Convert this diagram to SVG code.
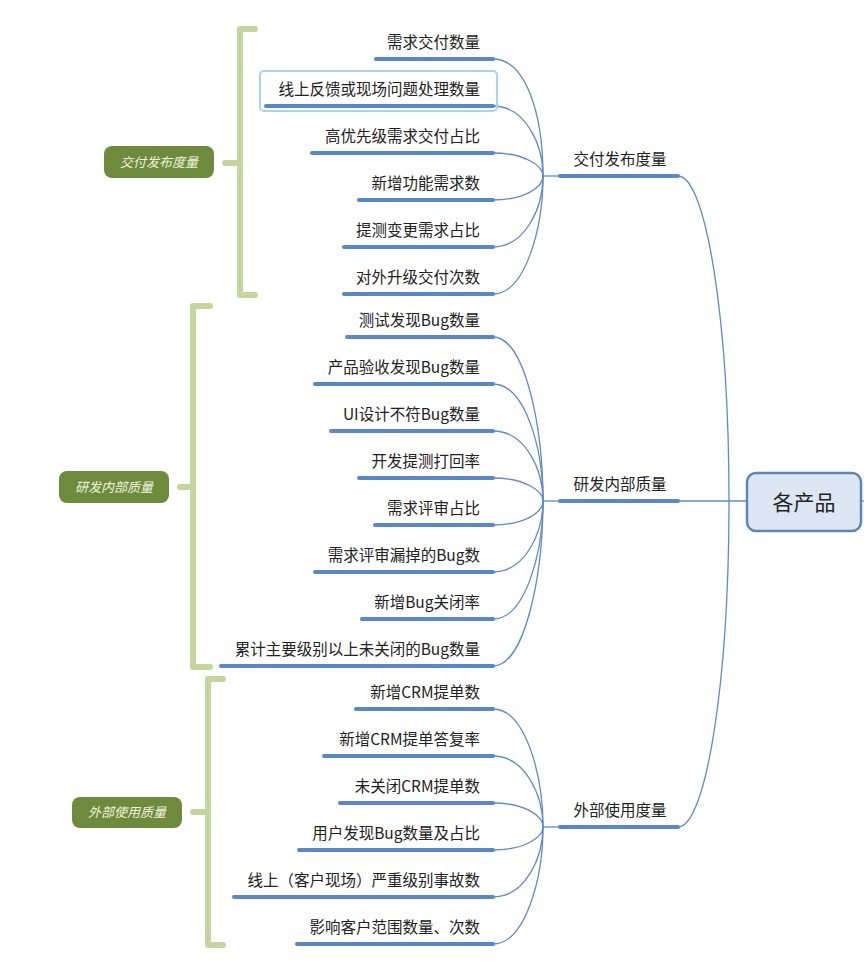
<svg xmlns="http://www.w3.org/2000/svg" width="864" height="974" viewBox="0 0 864 974">
<style>
text{font-family:"Noto Sans CJK SC","Noto Sans",sans-serif;}
.leaf{font-size:15.5px;fill:#222;text-anchor:end;}
.hub{font-size:15.5px;fill:#222;text-anchor:middle;}
.ul{stroke:#5a88c6;stroke-width:4;stroke-linecap:round;}
.con{fill:none;stroke:#5f8cc4;stroke-width:1.3;}
.br{fill:none;stroke:#c6d59d;stroke-width:6;stroke-linecap:round;stroke-linejoin:round;}
.gbox{fill:#6e8b3d;}
.glabel{font-size:13px;fill:#eef3dc;font-style:italic;text-anchor:middle;}
</style>
<rect width="864" height="974" fill="#ffffff"/>
<g id="connectors">
  <path class="con" d="M493,59 C525,59 543,112 543,176"/>
  <path class="con" d="M493,106 C525,106 543,144 543,176"/>
  <path class="con" d="M493,153 C525,153 543,166 543,176"/>
  <path class="con" d="M493,200 C525,200 543,187 543,176"/>
  <path class="con" d="M493,247 C525,247 543,208 543,176"/>
  <path class="con" d="M493,294 C525,294 543,229 543,176"/>
  <path class="con" d="M543,176 L560,176"/>
  <path class="con" d="M493,337 C525,337 543,427 543,501"/>
  <path class="con" d="M493,384 C525,384 543,448 543,501"/>
  <path class="con" d="M493,431 C525,431 543,469 543,501"/>
  <path class="con" d="M493,478 C525,478 543,491 543,501"/>
  <path class="con" d="M493,525 C525,525 543,512 543,501"/>
  <path class="con" d="M493,572 C525,572 543,533 543,501"/>
  <path class="con" d="M493,619 C525,619 543,554 543,501"/>
  <path class="con" d="M493,666 C525,666 543,575 543,501"/>
  <path class="con" d="M543,501 L560,501"/>
  <path class="con" d="M493,709 C525,709 543,774 543,827"/>
  <path class="con" d="M493,756 C525,756 543,795 543,827"/>
  <path class="con" d="M493,803 C525,803 543,816 543,827"/>
  <path class="con" d="M493,850 C525,850 543,837 543,827"/>
  <path class="con" d="M493,897 C525,897 543,858 543,827"/>
  <path class="con" d="M493,944 C525,944 543,879 543,827"/>
  <path class="con" d="M543,827 L560,827"/>
  <path class="con" d="M678,176 C706,176 729,320 729,501"/>
  <path class="con" d="M678,827 C706,827 729,682 729,501"/>
  <path class="con" d="M678,501 L747,501"/>
  <path class="con" d="M861,501 L864,501"/>
</g>
<g id="root">
  <rect x="747" y="473" width="114" height="58" rx="9" fill="#dde7f3" stroke="#5f84b6" stroke-width="2.5"/>
  <text x="804" y="510" font-size="21" fill="#222" text-anchor="middle">各产品</text>
</g>
<g id="hub-delivery">
  <line class="ul" x1="560" y1="176" x2="678" y2="176"/>
  <text class="hub" x="620" y="165">交付发布度量</text>
</g>
<g id="hub-internal">
  <line class="ul" x1="560" y1="501" x2="678" y2="501"/>
  <text class="hub" x="620" y="490">研发内部质量</text>
</g>
<g id="hub-external">
  <line class="ul" x1="560" y1="827" x2="678" y2="827"/>
  <text class="hub" x="620" y="816">外部使用度量</text>
</g>
<g id="leaf-1-1"><line class="ul" x1="376" y1="59" x2="493" y2="59"/><text class="leaf" x="480" y="48">需求交付数量</text></g>
<g id="leaf-1-2"><rect x="260" y="71" width="237" height="40" rx="4" fill="none" stroke="#a6d6ea" stroke-width="2"/><line class="ul" x1="266" y1="106" x2="493" y2="106"/><text class="leaf" x="480" y="95">线上反馈或现场问题处理数量</text></g>
<g id="leaf-1-3"><line class="ul" x1="312" y1="153" x2="493" y2="153"/><text class="leaf" x="480" y="142">高优先级需求交付占比</text></g>
<g id="leaf-1-4"><line class="ul" x1="359" y1="200" x2="493" y2="200"/><text class="leaf" x="480" y="189">新增功能需求数</text></g>
<g id="leaf-1-5"><line class="ul" x1="344" y1="247" x2="493" y2="247"/><text class="leaf" x="480" y="236">提测变更需求占比</text></g>
<g id="leaf-1-6"><line class="ul" x1="344" y1="294" x2="493" y2="294"/><text class="leaf" x="480" y="283">对外升级交付次数</text></g>
<g id="leaf-2-1"><line class="ul" x1="347" y1="337" x2="493" y2="337"/><text class="leaf" x="480" y="326">测试发现Bug数量</text></g>
<g id="leaf-2-2"><line class="ul" x1="315" y1="384" x2="493" y2="384"/><text class="leaf" x="480" y="373">产品验收发现Bug数量</text></g>
<g id="leaf-2-3"><line class="ul" x1="331" y1="431" x2="493" y2="431"/><text class="leaf" x="480" y="420">UI设计不符Bug数量</text></g>
<g id="leaf-2-4"><line class="ul" x1="359" y1="478" x2="493" y2="478"/><text class="leaf" x="480" y="467">开发提测打回率</text></g>
<g id="leaf-2-5"><line class="ul" x1="375" y1="525" x2="493" y2="525"/><text class="leaf" x="480" y="514">需求评审占比</text></g>
<g id="leaf-2-6"><line class="ul" x1="315" y1="572" x2="493" y2="572"/><text class="leaf" x="480" y="561">需求评审漏掉的Bug数</text></g>
<g id="leaf-2-7"><line class="ul" x1="362" y1="619" x2="493" y2="619"/><text class="leaf" x="480" y="608">新增Bug关闭率</text></g>
<g id="leaf-2-8"><line class="ul" x1="221" y1="666" x2="493" y2="666"/><text class="leaf" x="480" y="655">累计主要级别以上未关闭的Bug数量</text></g>
<g id="leaf-3-1"><line class="ul" x1="356" y1="709" x2="493" y2="709"/><text class="leaf" x="480" y="698">新增CRM提单数</text></g>
<g id="leaf-3-2"><line class="ul" x1="324" y1="756" x2="493" y2="756"/><text class="leaf" x="480" y="745">新增CRM提单答复率</text></g>
<g id="leaf-3-3"><line class="ul" x1="340" y1="803" x2="493" y2="803"/><text class="leaf" x="480" y="792">未关闭CRM提单数</text></g>
<g id="leaf-3-4"><line class="ul" x1="299" y1="850" x2="493" y2="850"/><text class="leaf" x="480" y="839">用户发现Bug数量及占比</text></g>
<g id="leaf-3-5"><line class="ul" x1="234" y1="897" x2="493" y2="897"/><text class="leaf" x="480" y="886">线上（客户现场）严重级别事故数</text></g>
<g id="leaf-3-6"><line class="ul" x1="297" y1="944" x2="493" y2="944"/><text class="leaf" x="480" y="933">影响客户范围数量、次数</text></g>
<g id="bracket-1">
  <path class="br" d="M255,29 L240,29 L240,295 L255,295 M225,163 L240,163"/>
  <rect class="gbox" x="104" y="146" width="110" height="32" rx="8"/>
  <text class="glabel" x="159" y="167">交付发布度量</text>
</g>
<g id="bracket-2">
  <path class="br" d="M210,306 L193,306 L193,667 L210,667 M180,487 L193,487"/>
  <rect class="gbox" x="59" y="471" width="110" height="32" rx="8"/>
  <text class="glabel" x="114" y="492">研发内部质量</text>
</g>
<g id="bracket-3">
  <path class="br" d="M223,679 L208,679 L208,945 L223,945 M193,812 L208,812"/>
  <rect class="gbox" x="72" y="797" width="110" height="31" rx="8"/>
  <text class="glabel" x="127" y="817">外部使用质量</text>
</g>
</svg>
